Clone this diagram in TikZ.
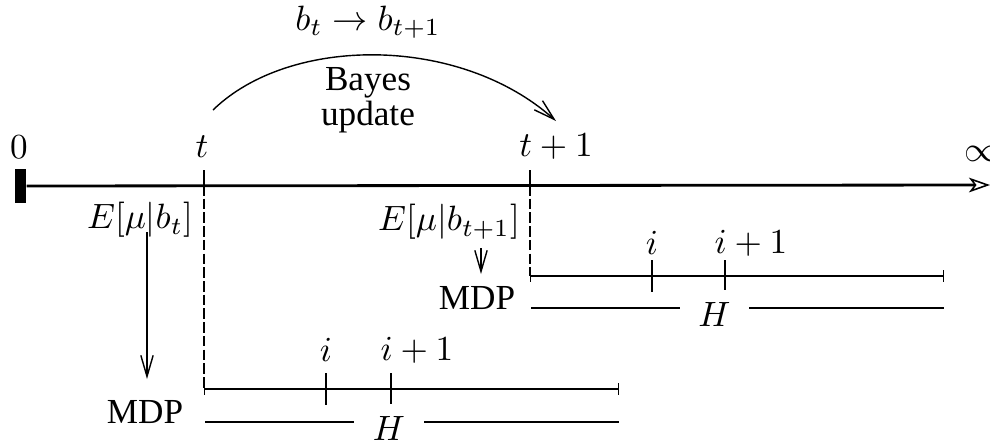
\documentclass[tikz,border=0pt]{standalone}
\usepackage{amsmath,amssymb}
\usepackage{fontspec}
\newfontfamily\wordfont{Liberation Serif}
\usetikzlibrary{arrows.meta,calc}

\begin{document}
\begin{tikzpicture}[x=0.01cm,y=-0.01cm,
    timeline/.style={line width=0.8pt,-{Stealth[open,length=6pt,width=4.2pt,inset=1.6pt,line width=0.45pt]}},
    horizon/.style={line width=0.7pt,{Bar[width=3.4pt,line width=0.4pt]}-{Bar[width=3.4pt,line width=0.4pt]}},
    tick/.style={line width=0.7pt},
    drop/.style={dash pattern=on 3pt off 0.9pt},
    barb/.style={-{Straight Barb[length=6pt,width=3.5pt]}},
    mdp/.style={font=\wordfont},
    hlabel/.style={pos=0.444,fill=white,inner xsep=5.3pt,yshift=-0.06cm}]
    \useasboundingbox (0,0) rectangle (990,442);

    % time line
    \node[fill=black,minimum width=0.11cm,minimum height=0.34cm,inner sep=0pt] (start) at (20.5,186) {};
    \coordinate (end) at (990,185);
    \draw[timeline] (start) -- (end);

    \node (zero) at (19,147) {$0$};
    \node (tnow) at (202,147) {$t$};
    \node (tnext) at (556,147) {$t+1$};
    \node (inf) at (982,154) {$\infty$};

    \coordinate (t0) at (204,185);
    \coordinate (t1) at (530,185);
    \coordinate (lowstart) at (204,389);
    \coordinate (lowend) at (619,389);
    \coordinate (upstart) at (530,276);
    \coordinate (upend) at (944,276);

    \draw[tick] (204,170) -- (t0);
    \draw[tick] (530,170) -- (t1);
    \draw[drop] (t0) -- (lowstart);
    \draw[drop] (t1) -- (upstart);

    % Bayes update
    \node (belief) at (368,22) {$b_t \rightarrow b_{t+1}$};
    \node[align=center,font=\wordfont\fontsize{10}{7.5}\selectfont] (bayes) at (368,100) {Bayes\\update};
    \coordinate (arcfrom) at (213,110);
    \coordinate (arcto) at (556,121);
    \draw[barb] (arcfrom) .. controls (290,35) and (460,35) .. (arcto);

    % expected model -> MDP
    \node (Enow) at (140,220) {$E[\mu|b_t]$};
    \node (Enext) at (449,222) {$E[\mu|b_{t+1}]$};
    \node[mdp] (mdplow) at (145,412) {MDP};
    \node[mdp] (mdpup) at (477,298) {MDP};
    \coordinate (dl0) at (147,232);
    \coordinate (dl1) at (147,379);
    \coordinate (du0) at (481,248);
    \coordinate (du1) at (481,274);
    \draw[barb] (dl0) -- (dl1);
    \draw[barb] (du0) -- (du1);

    % lower horizon
    \draw[horizon] (lowstart) -- (lowend);
    \foreach \x in {326,391}
        \draw[tick] (\x,373) -- (\x,405);
    \node (ilow) at (326,350) {$i$};
    \node (inextlow) at (417,350) {$i+1$};
    \coordinate (hlow0) at (205,422);
    \coordinate (hlow1) at (619,422);
    \draw (hlow0) -- node[hlabel] (Hlow) {$H$} (hlow1);

    % upper horizon
    \draw[horizon] (upstart) -- (upend);
    \foreach \x in {652,725}
        \draw[tick] (\x,260) -- (\x,292);
    \node (iup) at (652,243) {$i$};
    \node (inextup) at (751,243) {$i+1$};
    \coordinate (hup0) at (531,308);
    \coordinate (hup1) at (944,308);
    \draw (hup0) -- node[hlabel] (Hup) {$H$} (hup1);
\end{tikzpicture}
\end{document}
